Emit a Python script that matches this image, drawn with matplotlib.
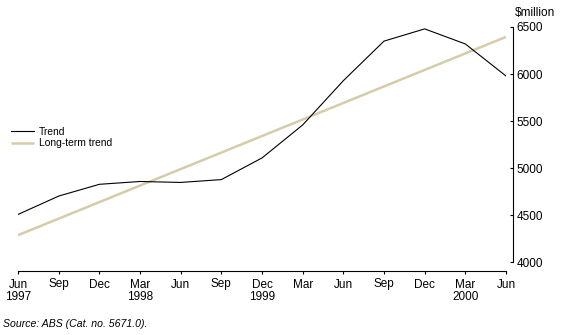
import matplotlib
matplotlib.use("Agg")
import matplotlib.pyplot as plt

plt.rcParams['font.family'] = ['Liberation Sans', 'DejaVu Sans']

# Quarterly periods, Jun 1997 to Jun 2000
quarters = ["Jun", "Sep", "Dec", "Mar", "Jun", "Sep", "Dec", "Mar",
            "Jun", "Sep", "Dec", "Mar", "Jun"]
years = ["1997", "", "", "1998", "", "", "1999", "", "", "", "", "2000", ""]

# Trend series ($million)
trend = [4510, 4705, 4830, 4860, 4850, 4880, 5110, 5460,
         5930, 6350, 6480, 6320, 5980]

# Long-term trend (straight line between the end quarters)
longterm_idx = [0, 12]
longterm = [4290, 6395]

yticks = [4000, 4500, 5000, 5500, 6000, 6500]

W, H = 564, 335
PX = 72 / 100  # points per pixel at 100 dpi

fig = plt.figure(figsize=(W / 100, H / 100), dpi=100)
ax = fig.add_axes([18 / W, (H - 262.5) / H, 488 / W, 235.5 / H])

x = list(range(len(quarters)))
ax.plot(longterm_idx, longterm, color="#d4ccaa", lw=1.8, solid_capstyle="butt",
        label="Long-term trend", zorder=2)
ax.plot(x, trend, color="black", lw=0.8, label="Trend", zorder=3)

ax.set_xlim(0, 12)
ax.set_ylim(4000, 6500)

for s in ["top", "left"]:
    ax.spines[s].set_visible(False)
ax.spines["right"].set_position(("outward", 7 * PX))
ax.spines["bottom"].set_position(("outward", 8.5 * PX))
for s in ["right", "bottom"]:
    ax.spines[s].set_linewidth(0.8)

ax.yaxis.tick_right()
ax.set_yticks(yticks)
ax.set_yticklabels([str(v) for v in yticks])
ax.tick_params(axis="y", direction="in", length=3 * PX, width=0.8, pad=3.5 * PX,
               labelsize=8.5)

ax.set_xticks(x)
ax.set_xticklabels([q + ("\n" + y if y else "") for q, y in zip(quarters, years)],
                   va="top", linespacing=1.0)
ax.tick_params(axis="x", direction="out", length=3 * PX, width=0.8, pad=4.5 * PX,
               labelsize=8.5)
for lbl in ax.get_xticklabels():
    lbl.set_multialignment("center")

handles, labels = ax.get_legend_handles_labels()
ax.legend([handles[1], handles[0]], [labels[1], labels[0]],
          loc="upper left", bbox_to_anchor=(11 / W, (H - 127) / H),
          bbox_transform=fig.transFigure, frameon=False, fontsize=7.4,
          handlelength=2.2, handletextpad=0.55, labelspacing=0.12,
          borderaxespad=0, borderpad=0)

fig.text(535 / W, (H - 13) / H, "$million", ha="center", va="center",
         fontsize=8.5)
fig.text(3 / W, (H - 324) / H, "Source: ABS (Cat. no. 5671.0).",
         ha="left", va="center", fontsize=7.6, style="italic")

fig.savefig("out.png", dpi=100)
